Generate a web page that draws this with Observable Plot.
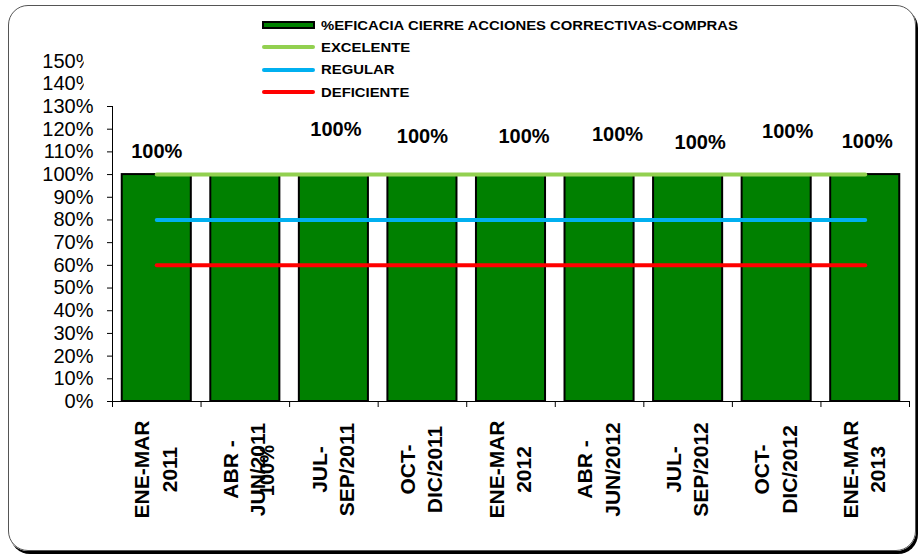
<!DOCTYPE html>
<html>
<head>
<meta charset="utf-8">
<script src="https://cdn.jsdelivr.net/npm/d3@7"></script>
<script src="https://cdn.jsdelivr.net/npm/@observablehq/plot@0.6"></script>
<style>
  html, body { margin: 0; padding: 0; background: #fff; }
  #wrap { position: relative; width: 918px; height: 555px; overflow: hidden; font-family: "Liberation Sans", Arial, sans-serif; }
  #chart { position: absolute; left: 0; top: 0; }
  #frame { position: absolute; left: 8px; top: 5px; width: 908px; height: 546px; box-sizing: border-box;
           border: 1px solid #555; border-radius: 20px; box-shadow: 2px 3px 0 #000; background: transparent; }
  #legend { position: absolute; left: 262px; top: 14px; font: bold 13.5px "Liberation Sans", Arial, sans-serif; color: #000; }
  .row { display: flex; align-items: center; height: 22.3px; }
  .row span { display: inline-block; transform: scaleX(1.1); transform-origin: left center; white-space: nowrap; }
  .sw { width: 53px; margin-right: 6px; box-sizing: border-box; }
  .bar { height: 8px; background: #008000; border: 2px solid #000; }
  .ln { height: 4px; border-radius: 2px; }
</style>
</head>
<body>
<div id="wrap">
  <div id="chart"></div>
  <div id="legend"></div>
  <div id="frame"></div>
</div>
<script>
// ---- data ----
const categories = ["ENE-MAR\n2011", "ABR -\nJUN/2011", "JUL-\nSEP/2011", "OCT-\nDIC/2011",
  "ENE-MAR\n2012", "ABR -\nJUN/2012", "JUL-\nSEP/2012", "OCT-\nDIC/2012", "ENE-MAR\n2013"];
const eficacia   = [1, 1, 1, 1, 1, 1, 1, 1, 1];
const excelente  = [1, 1, 1, 1, 1, 1, 1, 1, 1];
const regular    = [0.8, 0.8, 0.8, 0.8, 0.8, 0.8, 0.8, 0.8, 0.8];
const deficiente = [0.6, 0.6, 0.6, 0.6, 0.6, 0.6, 0.6, 0.6, 0.6];
const yTicks = [0, 0.1, 0.2, 0.3, 0.4, 0.5, 0.6, 0.7, 0.8, 0.9, 1.0, 1.1, 1.2, 1.3];
const yExtraLabels = [1.4, 1.5];
const seriesNames = ["%EFICACIA CIERRE ACCIONES CORRECTIVAS-COMPRAS", "EXCELENTE", "REGULAR", "DEFICIENTE"];

// label placement quirks (style only)
const labelStyle = [
  {dx: 0, dy: -23, rotate: 0}, {dx: 22, dy: 296, rotate: -90}, {dx: 2, dy: -45, rotate: 0},
  {dx: 0, dy: -38, rotate: 0}, {dx: 13, dy: -38, rotate: 0}, {dx: 18, dy: -40, rotate: 0},
  {dx: 12, dy: -32, rotate: 0}, {dx: 11, dy: -43, rotate: 0}, {dx: 2, dy: -33, rotate: 0}
];
const colors = {bar: "#008000", exc: "#92D050", reg: "#00B0F0", def: "#FF0000"};

const data = categories.map((c, i) => ({i, cat: c, v: eficacia[i], ex: excelente[i], re: regular[i], de: deficiente[i]}));
const pct = d3.format(".0%");
const font = "'Liberation Sans', Arial, sans-serif";

const valueLabels = data.map((d, k) => Plot.text([d], {
  x: r => r.i + 0.5, y: "v", text: r => pct(r.v),
  dx: labelStyle[k].dx, dy: labelStyle[k].dy, rotate: labelStyle[k].rotate,
  fontSize: 20, fontWeight: "bold", fill: "#000"
}));

const chart = Plot.plot({
  width: 918, height: 555,
  marginLeft: 112, marginRight: 9, marginTop: 106, marginBottom: 154,
  style: {fontFamily: font, background: "transparent", color: "#000"},
  x: {domain: [0, categories.length]},
  y: {domain: [0, 1.3]},
  marks: [
    Plot.rectY(data, {x1: d => d.i + 0.11, x2: d => d.i + 0.89, y1: 0, y2: "v", fill: colors.bar, stroke: "#000", strokeWidth: 2}),
    Plot.ruleY([0], {stroke: "#000", strokeWidth: 1}),
    Plot.ruleX([0], {y1: 0, y2: 1.3, stroke: "#000", strokeWidth: 1}),
    Plot.axisY({ticks: yTicks, tickFormat: pct, tickSize: 5, tickPadding: 14, fontSize: 20, label: null, stroke: "#000"}),
    Plot.text(yExtraLabels, {
      y: d => d, frameAnchor: "left", dx: -19, textAnchor: "end", text: d => pct(d), fontSize: 20, fill: "#000",
      render: (idx, s, v, dims, ctx, next) => { const g = next(idx, s, v, dims, ctx); g.style.clipPath = "inset(-5px 10px -5px -5px)"; return g; }
    }),
    Plot.axisX({ticks: d3.range(0, categories.length + 1), tickSize: 6, tickFormat: () => "", label: null, stroke: "#000"}),
    Plot.line(data, {x: d => d.i + 0.5, y: "de", stroke: colors.def, strokeWidth: 4, strokeLinecap: "round"}),
    Plot.line(data, {x: d => d.i + 0.5, y: "re", stroke: colors.reg, strokeWidth: 4, strokeLinecap: "round"}),
    Plot.line(data, {x: d => d.i + 0.5, y: "ex", stroke: colors.exc, strokeWidth: 4, strokeLinecap: "round"}),
    Plot.text(data, {x: d => d.i + 0.5, frameAnchor: "bottom", dx: 20, dy: 68, rotate: -90, text: "cat",
      fontSize: 21, fontWeight: "bold", lineHeight: 1.3, textAnchor: "middle", fill: "#000"}),
    ...valueLabels
  ]
});
document.getElementById("chart").appendChild(chart);

// legend
const legend = document.getElementById("legend");
const swatches = ["bar", "exc", "reg", "def"];
seriesNames.forEach((name, k) => {
  const row = document.createElement("div");
  row.className = "row";
  const sw = document.createElement("div");
  if (k === 0) { sw.className = "sw bar"; }
  else { sw.className = "sw ln"; sw.style.background = colors[swatches[k]]; }
  const t = document.createElement("span");
  t.textContent = name;
  row.appendChild(sw); row.appendChild(t);
  legend.appendChild(row);
});
</script>
</body>
</html>
